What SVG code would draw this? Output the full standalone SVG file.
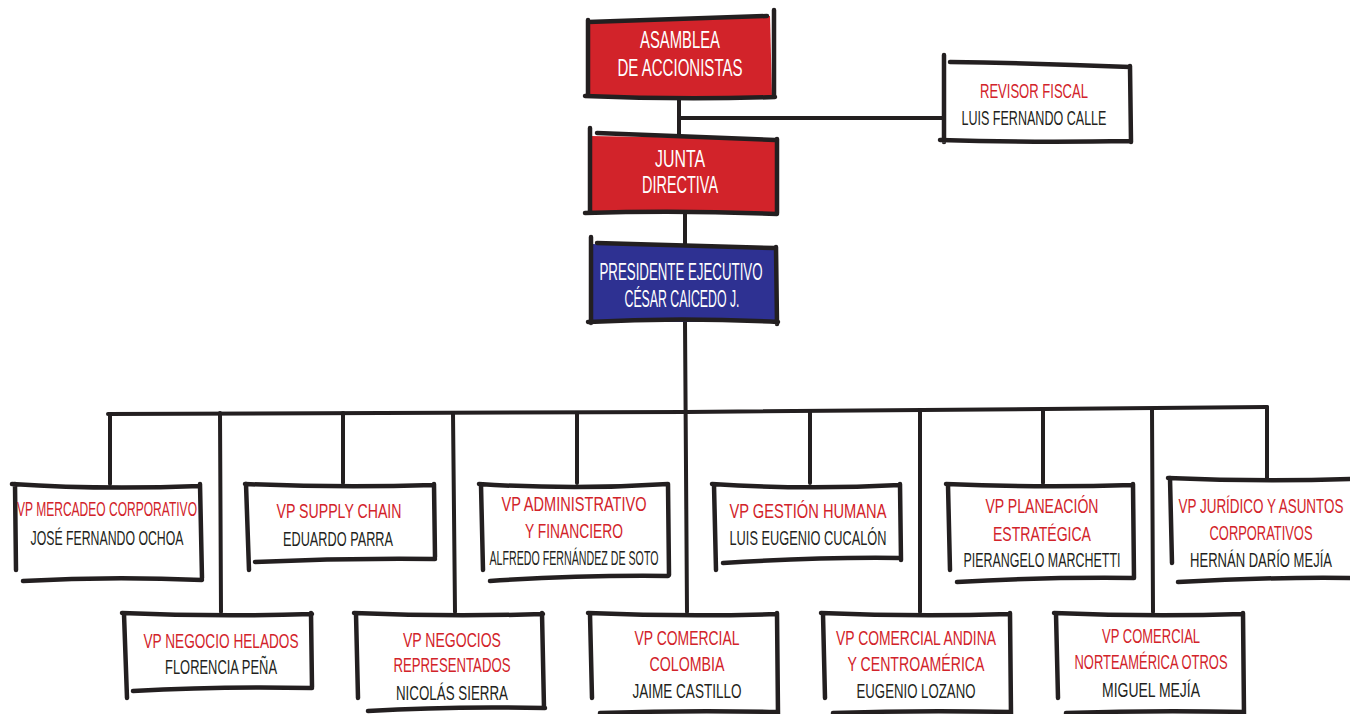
<svg xmlns="http://www.w3.org/2000/svg" width="1350" height="714" viewBox="0 0 1350 714">
<style>
  .ln{fill:none;stroke:#231f20;stroke-width:4.5;stroke-linecap:round;stroke-linejoin:round}
  .cn{fill:none;stroke:#231f20;stroke-width:4;stroke-linecap:round;stroke-linejoin:round}
  .t{font-family:"Liberation Sans",Arial,sans-serif;font-size:21px;text-anchor:middle}
  .tb{font-family:"Liberation Sans",Arial,sans-serif;font-size:23px;text-anchor:middle;fill:#ffffff}
  .r{fill:#d2232a}
  .k{fill:#231f20}
  .redfill{fill:#d2232a}
  .bluefill{fill:#2e3192}
</style>
<rect width="1350" height="714" fill="#ffffff"/>

<g id="connectors">
  <path class="cn" d="M679,97 L679,137"/>
  <path class="cn" d="M679,118 L944,118"/>
  <path class="cn" d="M685,213 L685,245"/>
  <path class="cn" d="M685,322 L687,612"/>
  <path class="cn" d="M108,414 L686,412 L1267,407"/>
  <path class="cn" d="M110,414 L110,484"/>
  <path class="cn" d="M220,413 L221,612"/>
  <path class="cn" d="M343,413 L343,483"/>
  <path class="cn" d="M453,413 L455,612"/>
  <path class="cn" d="M577,413 L577,483"/>
  <path class="cn" d="M810,412 L810,483"/>
  <path class="cn" d="M920,412 L920,612"/>
  <path class="cn" d="M1043,411 L1043,483"/>
  <path class="cn" d="M1152,410 L1153,612"/>
  <path class="cn" d="M1267,407 L1267,478"/>
</g>

<g id="asamblea">
  <path class="redfill" d="M588,21 L770,16 L772,96 L588,96 Z"/>
  <path class="ln" d="M588,22 L767,16 M774,10 L774,97 M585,96 Q680,100 775,97 M588,20 L588,95"/>
  <text class="tb" transform="scale(0.62 1)" x="1096.8" y="48" textLength="129" lengthAdjust="spacingAndGlyphs">ASAMBLEA</text>
  <text class="tb" transform="scale(0.62 1)" x="1096.8" y="76" textLength="201.6" lengthAdjust="spacingAndGlyphs">DE ACCIONISTAS</text>
</g>

<g id="junta">
  <path class="redfill" d="M590,136 L775,139 L776,213 L590,213 Z"/>
  <path class="ln" d="M597,133 L775,140 M777,139 L777,213 M585,213 Q680,210 777,214 M590,128 L590,213"/>
  <text class="tb" transform="scale(0.62 1)" x="1096.8" y="167" textLength="80.6" lengthAdjust="spacingAndGlyphs">JUNTA</text>
  <text class="tb" transform="scale(0.62 1)" x="1096.8" y="193" textLength="122.6" lengthAdjust="spacingAndGlyphs">DIRECTIVA</text>
</g>

<g id="presidente">
  <path class="bluefill" d="M591,244 L775,248 L776,322 L591,322 Z"/>
  <path class="ln" d="M597,243 Q690,246 775,248 M776,247 L777,324 M588,322 Q680,317 778,322 M591,237 L591,323"/>
  <text class="tb" transform="scale(0.62 1)" x="1098.4" y="280" textLength="262.9" lengthAdjust="spacingAndGlyphs">PRESIDENTE EJECUTIVO</text>
  <text class="tb" transform="scale(0.62 1)" x="1100" y="307" textLength="185.5" lengthAdjust="spacingAndGlyphs">CÉSAR CAICEDO J.</text>
</g>

<g id="revisor">
  <path class="ln" d="M950,62 Q1040,63 1130,67 M1130,66 L1131,142 M940,140 Q1035,143 1130,141 M944,55 L944,142"/>
  <text class="t r" transform="scale(0.62 1)" x="1667.7" y="98" textLength="174.2" lengthAdjust="spacingAndGlyphs">REVISOR FISCAL</text>
  <text class="t k" transform="scale(0.62 1)" x="1667.7" y="125" textLength="233.9" lengthAdjust="spacingAndGlyphs">LUIS FERNANDO CALLE</text>
</g>

<g id="vp-mercadeo">
  <path class="ln" d="M12,484 Q100,490 200,486 M200,484 L202,578 M23,581 Q110,576 202,580 M15,484 L16,570"/>
  <text class="t r" transform="scale(0.62 1)" x="172.6" y="516" textLength="290.3" lengthAdjust="spacingAndGlyphs">VP MERCADEO CORPORATIVO</text>
  <text class="t k" transform="scale(0.62 1)" x="172.6" y="545" textLength="246.8" lengthAdjust="spacingAndGlyphs">JOSÉ FERNANDO OCHOA</text>
</g>

<g id="vp-supply">
  <path class="ln" d="M245,484 Q340,488 434,485 M434,484 L435,557 M255,562 Q345,558 435,559 M246,484 L249,570"/>
  <text class="t r" transform="scale(0.62 1)" x="546.8" y="518" textLength="201.6" lengthAdjust="spacingAndGlyphs">VP SUPPLY CHAIN</text>
  <text class="t k" transform="scale(0.62 1)" x="545.2" y="546" textLength="177.4" lengthAdjust="spacingAndGlyphs">EDUARDO PARRA</text>
</g>

<g id="vp-administrativo">
  <path class="ln" d="M479,484 Q575,490 668,484 M668,484 L669,575 M490,581 Q580,575 668,576 M481,485 L483,570"/>
  <text class="t r" transform="scale(0.62 1)" x="925.8" y="511" textLength="233.9" lengthAdjust="spacingAndGlyphs">VP ADMINISTRATIVO</text>
  <text class="t r" transform="scale(0.62 1)" x="925.8" y="538" textLength="158.1" lengthAdjust="spacingAndGlyphs">Y FINANCIERO</text>
  <text class="t k" transform="scale(0.62 1)" x="925.8" y="565" textLength="272.6" lengthAdjust="spacingAndGlyphs">ALFREDO FERNÁNDEZ DE SOTO</text>
</g>

<g id="vp-gestion">
  <path class="ln" d="M712,484 Q805,490 900,485 M900,484 L901,560 M723,563 Q815,557 900,558 M714,485 L716,570"/>
  <text class="t r" transform="scale(0.62 1)" x="1303.2" y="518" textLength="253.2" lengthAdjust="spacingAndGlyphs">VP GESTIÓN HUMANA</text>
  <text class="t k" transform="scale(0.62 1)" x="1303.2" y="545" textLength="253.2" lengthAdjust="spacingAndGlyphs">LUIS EUGENIO CUCALÓN</text>
</g>

<g id="vp-planeacion">
  <path class="ln" d="M946,484 Q1040,488 1133,485 M1133,484 L1134,578 M957,582 Q1045,577 1134,578 M948,485 L950,570"/>
  <text class="t r" transform="scale(0.62 1)" x="1680.6" y="513" textLength="182.3" lengthAdjust="spacingAndGlyphs">VP PLANEACIÓN</text>
  <text class="t r" transform="scale(0.62 1)" x="1680.6" y="541" textLength="158.1" lengthAdjust="spacingAndGlyphs">ESTRATÉGICA</text>
  <text class="t k" transform="scale(0.62 1)" x="1680.6" y="567" textLength="253.2" lengthAdjust="spacingAndGlyphs">PIERANGELO MARCHETTI</text>
</g>

<g id="vp-juridico">
  <path class="ln" d="M1168,478 Q1260,482 1352,479 M1170,478 L1172,563 M1178,582 Q1265,577 1352,578"/>
  <text class="t r" transform="scale(0.62 1)" x="2033.9" y="513" textLength="266.1" lengthAdjust="spacingAndGlyphs">VP JURÍDICO Y ASUNTOS</text>
  <text class="t r" transform="scale(0.62 1)" x="2033.9" y="540" textLength="166.1" lengthAdjust="spacingAndGlyphs">CORPORATIVOS</text>
  <text class="t k" transform="scale(0.62 1)" x="2033.9" y="567" textLength="229" lengthAdjust="spacingAndGlyphs">HERNÁN DARÍO MEJÍA</text>
</g>

<g id="vp-helados">
  <path class="ln" d="M122,613 Q215,617 312,614 M311,613 L312,687 M133,691 Q220,686 312,688 M124,614 L127,698"/>
  <text class="t r" transform="scale(0.62 1)" x="356.5" y="648" textLength="250" lengthAdjust="spacingAndGlyphs">VP NEGOCIO HELADOS</text>
  <text class="t k" transform="scale(0.62 1)" x="356.5" y="674" textLength="180.6" lengthAdjust="spacingAndGlyphs">FLORENCIA PEÑA</text>
</g>

<g id="vp-negocios">
  <path class="ln" d="M354,613 Q450,617 543,614 M542,613 L544,708 M368,711 Q450,706 545,708 M356,614 L358,698"/>
  <text class="t r" transform="scale(0.62 1)" x="729" y="647" textLength="158.1" lengthAdjust="spacingAndGlyphs">VP NEGOCIOS</text>
  <text class="t r" transform="scale(0.62 1)" x="729" y="672" textLength="188.7" lengthAdjust="spacingAndGlyphs">REPRESENTADOS</text>
  <text class="t k" transform="scale(0.62 1)" x="729" y="700" textLength="180.6" lengthAdjust="spacingAndGlyphs">NICOLÁS SIERRA</text>
</g>

<g id="vp-colombia">
  <path class="ln" d="M588,613 Q685,617 777,614 M777,613 L778,714 M600,713 Q690,710 777,712 M590,614 L592,698"/>
  <text class="t r" transform="scale(0.62 1)" x="1108.1" y="645" textLength="169.4" lengthAdjust="spacingAndGlyphs">VP COMERCIAL</text>
  <text class="t r" transform="scale(0.62 1)" x="1108.1" y="671" textLength="121" lengthAdjust="spacingAndGlyphs">COLOMBIA</text>
  <text class="t k" transform="scale(0.62 1)" x="1108.1" y="698" textLength="175.8" lengthAdjust="spacingAndGlyphs">JAIME CASTILLO</text>
</g>

<g id="vp-andina">
  <path class="ln" d="M821,613 Q915,617 1010,614 M1010,613 L1011,714 M833,713 Q920,710 1011,712 M823,614 L825,698"/>
  <text class="t r" transform="scale(0.62 1)" x="1477.4" y="645" textLength="258.1" lengthAdjust="spacingAndGlyphs">VP COMERCIAL ANDINA</text>
  <text class="t r" transform="scale(0.62 1)" x="1477.4" y="671" textLength="221" lengthAdjust="spacingAndGlyphs">Y CENTROAMÉRICA</text>
  <text class="t k" transform="scale(0.62 1)" x="1477.4" y="698" textLength="191.9" lengthAdjust="spacingAndGlyphs">EUGENIO LOZANO</text>
</g>

<g id="vp-norteamerica">
  <path class="ln" d="M1054,613 Q1150,617 1243,614 M1243,613 L1244,714 M1066,713 Q1155,710 1244,712 M1056,614 L1058,698"/>
  <text class="t r" transform="scale(0.62 1)" x="1856.5" y="643" textLength="158.1" lengthAdjust="spacingAndGlyphs">VP COMERCIAL</text>
  <text class="t r" transform="scale(0.62 1)" x="1856.5" y="669" textLength="246.8" lengthAdjust="spacingAndGlyphs">NORTEAMÉRICA OTROS</text>
  <text class="t k" transform="scale(0.62 1)" x="1856.5" y="697" textLength="158.1" lengthAdjust="spacingAndGlyphs">MIGUEL MEJÍA</text>
</g>
</svg>
